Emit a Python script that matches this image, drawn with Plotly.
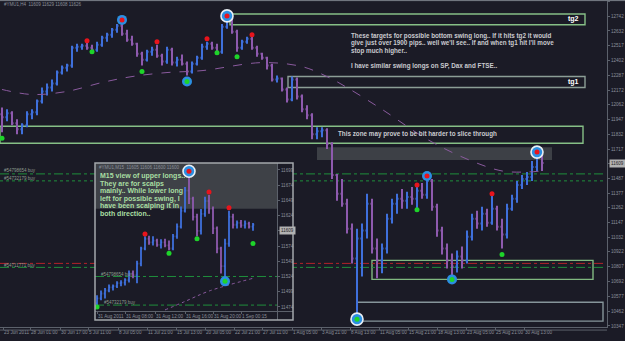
import plotly.graph_objects as go

W, H = 625, 341

# ---------------- main chart (H4) ----------------
h4_open = [11987, 11963, 11994, 11917, 11871, 11902, 11987, 12002, 12087, 12164,
           12194, 12225, 12310, 12348, 12364, 12502, 12510, 12518, 12502, 12487,
           12526, 12579, 12603, 12641, 12672, 12610, 12564, 12533, 12456, 12410,
           12472, 12487, 12441, 12395, 12487, 12387, 12410, 12379, 12318, 12379,
           12425, 12510, 12533, 12502, 12472, 12664, 12718, 12626, 12502, 12549,
           12572, 12502, 12456, 12425, 12364, 12256, 12264, 12179, 12102, 12256,
           12125, 12025, 11979, 11833, 11856, 11863, 11756, 11517, 11371, 11294,
           11101, 10870, 11024, 11086, 11294, 10947, 10855, 10947, 11178, 11294,
           11332, 11317, 11347, 11332, 11394, 11363, 11471, 11270, 11086, 10947,
           10855, 10808, 10885, 10855, 11039, 11178, 11140, 11217, 11147, 11255,
           11116, 11055, 11255, 11332, 11440, 11486, 11501, 11578, 11655]
h4_high = [12040, 12025, 12010, 11948, 11917, 12010, 12025, 12102, 12194, 12225,
           12256, 12325, 12364, 12379, 12518, 12533, 12533, 12549, 12526, 12549,
           12595, 12618, 12656, 12687, 12726, 12641, 12595, 12541, 12472, 12487,
           12510, 12526, 12456, 12510, 12502, 12433, 12449, 12395, 12395, 12441,
           12533, 12549, 12549, 12533, 12687, 12741, 12733, 12641, 12564, 12587,
           12595, 12518, 12464, 12433, 12379, 12287, 12271, 12194, 12279, 12271,
           12140, 12056, 11994, 11886, 11886, 11879, 11771, 11524, 11486, 11332,
           11140, 11101, 11140, 11371, 11332, 11024, 10985, 11217, 11332, 11371,
           11409, 11386, 11424, 11440, 11455, 11509, 11486, 11294, 11116, 10985,
           10908, 10932, 10962, 11086, 11217, 11240, 11270, 11255, 11363, 11278,
           11178, 11294, 11363, 11471, 11517, 11540, 11625, 11686, 11671]
h4_low = [11848, 11933, 11902, 11833, 11833, 11886, 11948, 11979, 12071, 12133,
          12164, 12210, 12295, 12318, 12348, 12472, 12487, 12487, 12464, 12472,
          12510, 12549, 12579, 12618, 12595, 12549, 12518, 12433, 12364, 12395,
          12441, 12425, 12364, 12379, 12364, 12356, 12364, 12287, 12302, 12364,
          12410, 12487, 12487, 12449, 12456, 12649, 12610, 12472, 12487, 12533,
          12487, 12433, 12410, 12333, 12241, 12233, 12164, 12079, 12087, 12102,
          12002, 11948, 11794, 11794, 11809, 11717, 11486, 11317, 11270, 11063,
          10832, 10447, 10731, 11024, 10908, 10716, 10755, 10908, 11140, 11217,
          11255, 11255, 11286, 11255, 11332, 11332, 11240, 11039, 10901, 10793,
          10731, 10762, 10793, 10832, 11009, 11101, 11086, 11116, 11132, 11086,
          10947, 11024, 11240, 11301, 11409, 11440, 11471, 11548, 11548]
h4_close = [11963, 11994, 11917, 11871, 11902, 11987, 12002, 12087, 12164, 12194,
            12225, 12310, 12348, 12364, 12502, 12510, 12518, 12502, 12487, 12526,
            12579, 12603, 12641, 12672, 12610, 12564, 12533, 12456, 12410, 12472,
            12487, 12441, 12395, 12487, 12387, 12410, 12379, 12318, 12379, 12425,
            12510, 12533, 12502, 12472, 12664, 12718, 12626, 12502, 12549, 12572,
            12502, 12456, 12425, 12364, 12256, 12264, 12179, 12102, 12256, 12125,
            12025, 11979, 11833, 11856, 11863, 11756, 11517, 11371, 11294, 11101,
            10870, 11024, 11086, 11294, 10947, 10855, 10947, 11178, 11294, 11332,
            11317, 11347, 11332, 11394, 11363, 11471, 11270, 11086, 10947, 10855,
            10808, 10885, 10855, 11039, 11178, 11140, 11217, 11147, 11255, 11116,
            11055, 11255, 11332, 11440, 11486, 11501, 11578, 11655, 11609]

ma_bar = [0, 6, 13, 20, 26, 33, 40, 52, 60, 65, 69, 76, 85, 93, 100, 105, 108]
ma_val = [12179, 12140, 12164, 12233, 12279, 12310, 12325, 12387, 12356, 12279,
          12194, 12025, 11794, 11640, 11548, 11540, 11548]

swing_hi_bar = [17, 31, 41, 50, 83, 98]
swing_hi_val = [12556, 12549, 12572, 12603, 11440, 11371]
swing_lo_bar = [0, 18, 28, 43, 47, 83, 100]
swing_lo_val = [11802, 12472, 12318, 12464, 12433, 11247, 10901]
pivot_hi_bar = [24, 85]
pivot_hi_val = [12718, 11509]
major_hi_bar = [45, 107]
major_hi_val = [12749, 11694]
pivot_lo_bar = [37, 90]
pivot_lo_val = [12241, 10708]
major_lo_bar = [71]
major_lo_val = [10400]

order_names = ["#54798654 buy", "#54732179 buy", "#54711771 buy", ""]
order_levels = [11525, 11471, 10832, 10801]

# zones: bar from, bar to, price low, price high
zone_tg2 = [45.6, 116.6, 12680, 12764]
zone_tg1 = [57.2, 116.6, 12194, 12279]
zone_slice = [-0.4, 116.2, 11763, 11894]
zone_grey = [63, 110, 11632, 11732]
zone_low1 = [74, 118.2, 10708, 10855]
zone_low2 = [71, 120.2, 10385, 10531]

price_ticks = [12857, 12742, 12632, 12517, 12402, 12287, 12172, 12062, 11947,
               11832, 11717, 11602, 11487, 11377, 11262, 11147, 11032, 10922,
               10807, 10692, 10577, 10462, 10347]
time_ticks = [0.2, 5.6, 11.6, 17.2, 23.2, 29, 34.8, 40.6, 46.4, 52, 58, 63.8,
              69.6, 75.4, 81.2, 87, 92.8, 98.6, 104.4]
time_labels = ["23 Jun 2011", "28 Jun 01:00", "30 Jun 17:00", "5 Jul 11:00",
               "8 Jul 05:00", "11 Jul 21:00", "15 Jul 13:00", "20 Jul 05:00",
               "22 Jul 21:00", "27 Jul 11:00", "1 Aug 05:00", "3 Aug 21:00",
               "8 Aug 13:00", "11 Aug 05:00", "15 Aug 21:00", "18 Aug 13:00",
               "23 Aug 05:00", "25 Aug 21:00", "30 Aug 13:00"]
last_price = "11609"

# ---------------- inset chart (M15) ----------------
m15_open = [11480, 11488, 11496, 11501, 11506, 11508, 11513, 11514, 11518, 11529,
            11526, 11545, 11570, 11586, 11580, 11583, 11576, 11580, 11575, 11570,
            11590, 11606, 11632, 11665, 11652, 11622, 11599, 11627, 11648, 11635,
            11603, 11570, 11541, 11578, 11622, 11609, 11612, 11608, 11611, 11606]
m15_high = [11493, 11501, 11505, 11511, 11511, 11516, 11518, 11521, 11534, 11534,
            11550, 11573, 11590, 11591, 11590, 11586, 11585, 11586, 11583, 11594,
            11611, 11639, 11671, 11692, 11655, 11627, 11635, 11655, 11658, 11639,
            11606, 11573, 11586, 11632, 11627, 11616, 11617, 11616, 11614, 11612]
m15_low = [11475, 11485, 11488, 11498, 11501, 11505, 11508, 11509, 11514, 11521,
           11513, 11541, 11567, 11576, 11575, 11573, 11570, 11572, 11567, 11567,
           11586, 11603, 11629, 11643, 11616, 11590, 11593, 11622, 11627, 11594,
           11562, 11529, 11521, 11573, 11603, 11603, 11604, 11603, 11603, 11599]
m15_close = [11488, 11496, 11501, 11506, 11508, 11513, 11514, 11518, 11529, 11526,
             11545, 11570, 11586, 11580, 11583, 11576, 11580, 11575, 11570, 11590,
             11606, 11632, 11665, 11652, 11622, 11599, 11627, 11648, 11635, 11603,
             11570, 11541, 11578, 11622, 11609, 11612, 11608, 11611, 11606, 11609]

m15_ma_bar = [17, 22, 28, 39]
m15_ma_val = [11469, 11483, 11500, 11521]
m15_hi_bar = [12, 28, 33]
m15_hi_val = [11594, 11663, 11637]
m15_lo_bar = [0, 18, 25, 39]
m15_lo_val = [11474, 11562, 11586, 11578]
m15_major_hi_bar = [23]
m15_major_hi_val = [11697]
m15_pivot_lo_bar = [32]
m15_pivot_lo_val = [11516]
m15_order_names = ["#54798654 buy", "#54732179 buy"]
m15_order_levels = [11524, 11477]
m15_price_ticks = [11699, 11674, 11649, 11624, 11599, 11574, 11549, 11524, 11499, 11474]
m15_time_ticks = [0, 7, 14.5, 22, 29, 36]
m15_time_labels = ["31 Aug 2011", "31 Aug 08:00", "31 Aug 12:00", "31 Aug 16:00",
                   "31 Aug 20:00", "1 Sep 00:15"]
m15_last_price = "11609"

# ---------------- styling ----------------
BG = "#1b1b26"
UP = "#3f70dc"
DN = "#8e5aae"
MA = "#8a5a9e"
RED = "#e8141c"
GRN = "#1ed42a"
BLU = "#2b8fe2"
AX = "#5c616b"
TXT = "#8b909a"
FONT = "Liberation Sans, Arial"


def px(x):
    return x / W


def py(y):
    return 1 - y / H


fig = go.Figure()

# main bars
fig.add_trace(go.Ohlc(x=list(range(len(h4_close))), open=h4_open, high=h4_high,
                      low=h4_low, close=h4_close, tickwidth=0.3,
                      increasing=dict(line=dict(color=UP, width=2)),
                      decreasing=dict(line=dict(color=DN, width=2)),
                      xaxis="x", yaxis="y", hoverinfo="skip"))
fig.add_trace(go.Scatter(x=ma_bar, y=ma_val, mode="lines", line=dict(color=MA, width=1, dash="dash", shape="spline"),
                         xaxis="x", yaxis="y", hoverinfo="skip"))


def dots(xs, ys, color, size, xa="x", ya="y", ring=None):
    line = dict(width=0) if ring is None else dict(color=ring, width=1.6)
    fig.add_trace(go.Scatter(x=xs, y=ys, mode="markers", xaxis=xa, yaxis=ya, hoverinfo="skip",
                             marker=dict(color=color, size=size, line=line)))


dots(swing_hi_bar, swing_hi_val, RED, 5)
dots(swing_lo_bar, swing_lo_val, GRN, 5)
dots(pivot_hi_bar, pivot_hi_val, BLU, 10)
dots(pivot_hi_bar, pivot_hi_val, RED, 5)
dots(major_hi_bar, major_hi_val, BLU, 12, ring="#e8eef4")
dots(major_hi_bar, major_hi_val, RED, 5)
dots(pivot_lo_bar, pivot_lo_val, BLU, 10)
dots(pivot_lo_bar, pivot_lo_val, GRN, 5)
dots(major_lo_bar, major_lo_val, BLU, 12, ring="#e8eef4")
dots(major_lo_bar, major_lo_val, GRN, 5)

# inset bars
fig.add_trace(go.Ohlc(x=list(range(len(m15_close))), open=m15_open, high=m15_high,
                      low=m15_low, close=m15_close, tickwidth=0.3,
                      increasing=dict(line=dict(color=UP, width=1.8)),
                      decreasing=dict(line=dict(color=DN, width=1.8)),
                      xaxis="x2", yaxis="y2", hoverinfo="skip"))
fig.add_trace(go.Scatter(x=m15_ma_bar, y=m15_ma_val, mode="lines", line=dict(color=MA, width=1, dash="dot", shape="spline"),
                         xaxis="x2", yaxis="y2", hoverinfo="skip"))
dots(m15_hi_bar, m15_hi_val, RED, 5, "x2", "y2")
dots(m15_lo_bar, m15_lo_val, GRN, 5, "x2", "y2")
dots(m15_major_hi_bar, m15_major_hi_val, BLU, 12, "x2", "y2", ring="#e8eef4")
dots(m15_major_hi_bar, m15_major_hi_val, RED, 5, "x2", "y2")
dots(m15_pivot_lo_bar, m15_pivot_lo_val, BLU, 10, "x2", "y2")
dots(m15_pivot_lo_bar, m15_pivot_lo_val, GRN, 5, "x2", "y2")

shapes = []


def zone(z, color, fill=None, xr="x", yr="y", width=1.4):
    d = dict(type="rect", xref=xr, yref=yr, x0=z[0], x1=z[1], y0=z[2], y1=z[3], layer="below",
             line=dict(color=color, width=width) if color else dict(width=0))
    if fill:
        d["fillcolor"] = fill
    shapes.append(d)


zone(zone_tg2, "#86bf86")
zone(zone_tg1, "#8c9e96")
zone(zone_slice, "#86bf86")
zone(zone_grey, None, fill="#3d4046")
zone(zone_low1, "#80b880")
zone(zone_low2, "#86959a")

order_styles = [("#1f8f3c", "dashdot"), ("#1f8f3c", "dot"), ("#b4232a", "dashdot"), ("#1f8f3c", "dashdot")]
for lvl, (c, d) in zip(order_levels, order_styles):
    shapes.append(dict(type="line", xref="x", yref="y", x0=-0.4, x1=120.2, y0=lvl, y1=lvl,
                       layer="below", line=dict(color=c, width=1, dash=d)))

# inset decorations
shapes.append(dict(type="rect", xref="x2", yref="y2", x0=-0.5, x1=45, y0=11635.3, y1=11710.4,
                   layer="below", fillcolor="#3e4147", line=dict(width=0)))
for lvl in m15_order_levels:
    shapes.append(dict(type="line", xref="x2", yref="y2", x0=-0.5, x1=45, y0=lvl, y1=lvl,
                       layer="below", line=dict(color="#1f8f3c", width=1, dash="dashdot")))
shapes.append(dict(type="rect", xref="paper", yref="paper", x0=px(95), x1=px(293), y0=py(322), y1=py(164),
                   layer="above", line=dict(color="#a4a8ac", width=1.5)))
# frame lines
shapes.append(dict(type="line", xref="paper", yref="paper", x0=0, x1=1, y0=py(0.6), y1=py(0.6),
                   line=dict(color="#7a7f88", width=1)))
shapes.append(dict(type="line", xref="paper", yref="paper", x0=0, x1=px(607), y0=py(332), y1=py(332),
                   line=dict(color=AX, width=1)))

ann = []


def text(x, y, t, size, color, bold=False, anchor="left", bg=None):
    a = dict(xref="paper", yref="paper", x=px(x), y=py(y), text=("<b>%s</b>" % t) if bold else t,
             showarrow=False, xanchor=anchor, yanchor="middle", borderpad=0,
             font=dict(family=FONT, size=size, color=color))
    if bg:
        a["bgcolor"] = bg
        a["borderpad"] = 1
    ann.append(a)


text(3, 4.5, "#YMU1,H4  11609 11629 11608 11626", 4.5, TXT)
note_lines = ["These targets for possible bottom swing long.. If it hits tg2 it would",
              "give just over 1900 pips.. well we'll see.. If and when tg1 hit I'll move",
              "stop much higher..",
              "",
              "I have similar swing longs on SP, Dax and FTSE.."]
for i, t in enumerate(note_lines):
    if t:
        text(350, 36 + 7.6 * i, t, 6.3, "#c9cacf", bold=True)
text(567, 19.5, "tg2", 7, "#ffffff", bold=True)
text(567, 82.5, "tg1", 7, "#ffffff", bold=True)
text(337, 134.5, "This zone may prove to be bit harder to slice through", 6.3, "#c9cacf", bold=True)
text(3, 172, order_names[0], 4.5, "#8c9a8e")
text(3, 179.5, order_names[1], 4.5, "#8c9a8e")
text(3, 267, order_names[2], 4.5, "#8c9a8e")
text(609, 164, last_price, 4.5, "#1e1e1e", bg="#b2b2b2")

text(98, 168.5, "#YMU1,M15  11605 11606 11600 11600", 4.5, TXT)
inset_lines = ["M15 view of upper longs..", "They are for scalps", "mainly.. While lower long",
               "left for possible swing, I", "have been scalping it in", "both direction.."]
for i, t in enumerate(inset_lines):
    text(99, 177 + 7.65 * i, t, 7, "#a9dfa2", bold=True)
text(100, 276, m15_order_names[0], 4.5, "#8c9a8e")
text(103, 304.5, m15_order_names[1], 4.5, "#8c9a8e")
text(278.5, 232, m15_last_price, 4.5, "#1e1e1e", bg="#b2b2b2")

axfont = dict(family=FONT, size=4.6, color=TXT)
fig.update_layout(
    width=W, height=H, margin=dict(l=0, r=0, t=0, b=0),
    paper_bgcolor=BG, plot_bgcolor=BG, showlegend=False,
    shapes=shapes, annotations=ann,
    xaxis=dict(domain=[0, px(607)], range=[-0.4, 121], anchor="y", showgrid=False, zeroline=False,
               showline=True, linecolor=AX, ticks="outside", ticklen=2, tickcolor=AX,
               tickvals=time_ticks, ticktext=time_labels, ticklabelposition="outside right",
               tickangle=0, tickfont=axfont, rangeslider=dict(visible=False), fixedrange=True),
    yaxis=dict(domain=[py(329), py(1)], range=[10338.7, 12864.3], anchor="x", side="right",
               showgrid=False, zeroline=False, showline=True, linecolor=AX, ticks="outside",
               ticklen=2, tickcolor=AX, tickvals=price_ticks, ticktext=[str(v) for v in price_ticks],
               tickfont=axfont, fixedrange=True),
    xaxis2=dict(domain=[px(95), px(293)], range=[-0.5, 49], anchor="free", position=py(313),
                showgrid=False, zeroline=False, showline=True, linecolor=AX, ticks="outside",
                ticklen=2, tickcolor=AX, tickvals=m15_time_ticks, ticktext=m15_time_labels,
                ticklabelposition="outside right", tickangle=0, tickfont=axfont,
                rangeslider=dict(visible=False), fixedrange=True),
    yaxis2=dict(domain=[py(322), py(164)], range=[11452.3, 11710.4], anchor="free", position=px(277),
                side="right", showgrid=False, zeroline=False, showline=True, linecolor=AX,
                ticks="outside", ticklen=2, tickcolor=AX, tickvals=m15_price_ticks,
                ticktext=[str(v) for v in m15_price_ticks], tickfont=axfont, fixedrange=True),
)

fig.write_html("out.html", config={"displayModeBar": False})
